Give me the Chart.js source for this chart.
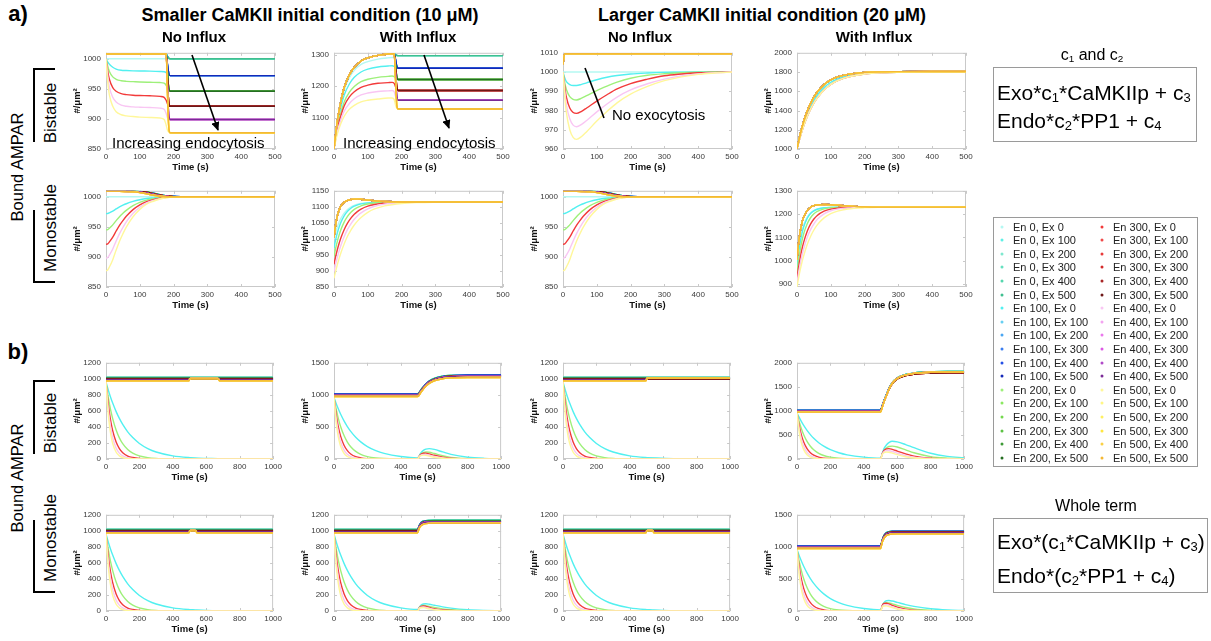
<!DOCTYPE html>
<html>
<head>
<meta charset="utf-8">
<script src="https://cdn.jsdelivr.net/npm/chart.js@4.4.1/dist/chart.umd.min.js"></script>
<style>
  html, body { margin: 0; padding: 0; background: #fff; }
  #fig { position: relative; width: 1211px; height: 641px; overflow: hidden;
         font-family: "Liberation Sans", Arial, Helvetica, sans-serif; color: #000; }
  #plots canvas { position: absolute; }
  .t { position: absolute; white-space: nowrap; transform: translate(-50%, -50%); line-height: 1; }
  .l { position: absolute; white-space: nowrap; transform: translateY(-50%); line-height: 1; }
  .r { position: absolute; white-space: nowrap; transform: translate(-50%, -50%) rotate(-90deg); line-height: 1; }
  .b { font-weight: bold; }
  .box { position: absolute; border: 1.5px solid #9a9a9a; box-sizing: border-box; background: #fff; }
  .brk { position: absolute; box-sizing: border-box; border-color: #000; border-style: solid; border-width: 0; }
  sub { font-size: 62%; vertical-align: -0.2em; line-height: 0; }
  .leg { position: absolute; font-size: 11px; color: #222; white-space: nowrap; transform: translateY(-50%); line-height: 1; }
  .dot { position: absolute; width: 3px; height: 3px; border-radius: 50%; transform: translate(-50%, -50%); }
</style>
</head>
<body>
<div id="fig">
  <div id="plots"></div>

  <!-- panel letters and column headings -->
  <div class="t b" style="left:18px;top:14px;font-size:22px;">a)</div>
  <div class="t b" style="left:18px;top:352px;font-size:22px;">b)</div>
  <div class="t b" style="left:310px;top:15px;font-size:18px;">Smaller CaMKII initial condition (10 μM)</div>
  <div class="t b" style="left:762px;top:15px;font-size:18px;">Larger CaMKII initial condition (20 μM)</div>
  <div class="t b" style="left:194px;top:36px;font-size:15px;">No Influx</div>
  <div class="t b" style="left:418px;top:36px;font-size:15px;">With Influx</div>
  <div class="t b" style="left:640px;top:36px;font-size:15px;">No Influx</div>
  <div class="t b" style="left:874px;top:36px;font-size:15px;">With Influx</div>

  <!-- row labels -->
  <div class="r" style="left:17px;top:167px;font-size:16.5px;">Bound AMPAR</div>
  <div class="r" style="left:17px;top:478px;font-size:16.5px;">Bound AMPAR</div>
  <div class="r" style="left:50px;top:113px;font-size:17px;">Bistable</div>
  <div class="r" style="left:50px;top:228px;font-size:17px;">Monostable</div>
  <div class="r" style="left:50px;top:423px;font-size:17px;">Bistable</div>
  <div class="r" style="left:50px;top:538px;font-size:17px;">Monostable</div>
  <div class="brk" style="left:33px;top:68px;width:22px;height:74px;border-top-width:2px;border-left-width:2px;"></div>
  <div class="brk" style="left:33px;top:210px;width:22px;height:73px;border-bottom-width:2px;border-left-width:2px;"></div>
  <div class="brk" style="left:33px;top:380px;width:22px;height:74px;border-top-width:2px;border-left-width:2px;"></div>
  <div class="brk" style="left:33px;top:520px;width:22px;height:73px;border-bottom-width:2px;border-left-width:2px;"></div>

  <!-- in-plot annotations -->
  <div class="l" style="left:112px;top:142px;font-size:15px;">Increasing endocytosis</div>
  <div class="l" style="left:343px;top:142px;font-size:15px;">Increasing endocytosis</div>
  <div class="l" style="left:612px;top:114px;font-size:15px;">No exocytosis</div>
  <svg width="1211" height="641" style="position:absolute;left:0;top:0;">
    <defs>
      <marker id="head" markerWidth="9" markerHeight="8" refX="8" refY="4" orient="auto" markerUnits="userSpaceOnUse">
        <path d="M0,0 L9,4 L0,8 z" fill="#000"/>
      </marker>
    </defs>
    <line x1="192" y1="55" x2="218" y2="130" stroke="#000" stroke-width="1.6" marker-end="url(#head)"/>
    <line x1="424" y1="55" x2="449" y2="128" stroke="#000" stroke-width="1.6" marker-end="url(#head)"/>
    <line x1="585" y1="68" x2="604" y2="118" stroke="#000" stroke-width="1.6"/>
  </svg>

  <!-- equation boxes -->
  <div class="t" style="left:1092px;top:55px;font-size:16px;">c<sub>1</sub> and c<sub>2</sub></div>
  <div class="box" style="left:993px;top:67px;width:204px;height:75px;"></div>
  <div class="l" style="left:997px;top:92px;font-size:21px;">Exo*c<sub>1</sub>*CaMKIIp + c<sub>3</sub></div>
  <div class="l" style="left:997px;top:120px;font-size:21px;">Endo*c<sub>2</sub>*PP1 + c<sub>4</sub></div>

  <div class="t" style="left:1096px;top:506px;font-size:16px;">Whole term</div>
  <div class="box" style="left:993px;top:518px;width:215px;height:75px;"></div>
  <div class="l" style="left:997px;top:541px;font-size:21px;">Exo*(c<sub>1</sub>*CaMKIIp + c<sub>3</sub>)</div>
  <div class="l" style="left:997px;top:575px;font-size:21px;">Endo*(c<sub>2</sub>*PP1 + c<sub>4</sub>)</div>

  <div class="box" id="legend" style="left:993px;top:217px;width:205px;height:250px;"></div>
</div>

<script>
// ---- series: endocytosis x exocytosis rate combinations ----
const enLevels = [0, 100, 200, 300, 400, 500];
const exLevels = [0, 100, 200, 300, 400, 500];
const seriesColors = [
  '#b4f8f2', '#5ef0e6', '#7fe8cf', '#66e0c0', '#55d6ad', '#40bf90',   // En 0
  '#52f0f0', '#67cff2', '#4aa6f2', '#3b7df0', '#2450e6', '#1428b8',   // En 100
  '#9ef07a', '#8be860', '#74d84e', '#5cc244', '#3d9a36', '#256e22',   // En 200
  '#f23a3a', '#f04a4a', '#e83a3a', '#d42a2a', '#a82626', '#6e1818',   // En 300
  '#f9c6f3', '#f3a4f0', '#ea78ec', '#dc58e4', '#b04ac8', '#7a2a96',   // En 400
  '#fff79a', '#fff685', '#fff060', '#ffe640', '#fad045', '#f4b834'    // En 500
];

// ---- axis ticks ----
const xTicksShort = [0, 100, 200, 300, 400, 500];
const xTicksLong = [0, 200, 400, 600, 800, 1000];
const yTicks850 = [850, 900, 950, 1000];
const yTicks1300 = [1000, 1100, 1200, 1300];
const yTicks960 = [960, 970, 980, 990, 1000, 1010];
const yTicks2000 = [1000, 1200, 1400, 1600, 1800, 2000];
const yTicks1150 = [850, 900, 950, 1000, 1050, 1100, 1150];
const yTicks900 = [900, 1000, 1100, 1200, 1300];
const yTicks0to1200 = [0, 200, 400, 600, 800, 1000, 1200];
const yTicks0to1500 = [0, 500, 1000, 1500];
const yTicks0to2000 = [0, 500, 1000, 1500, 2000];

// ---- (a) bistable, 10 uM, no influx ----
const a1Time = [0, 5, 10, 20, 30, 45, 60, 80, 100, 130, 160, 172, 178, 182, 186, 190, 200, 300, 400, 500];
const a1Curves = [
  [1000,1000,1000,1000,1000,1000,1000,1000,1000,1000,1000,1000,1000,1000,1000,1000,1000,1000,1000,1000],
  [1000,995,991,986,983,981,980.5,980,979.7,979.5,979,978.5,977,975,973,972,972,972,972,972],
  [1000,988,979,970,966,963.5,962.5,962,961.5,961,960.5,959.5,956,951,948,946.5,946,946,946,946],
  [1000,980,966,952,946,942,940.5,939.5,939,938.5,937.5,936,931,925,922,921,921,921,921,921],
  [1000,972,953,936,928,923,921,920,919.5,919,918,916,909,902,900,899,899,899,899,899],
  [1000,962,940,921,912,907,905,904,903,902.5,901.5,899,890,881,878,877,877,877,877,877],
  [1008,1008,1008,1008,1008,1008,1008,1008,1008,1008,1008,1008,1008,1004,1001,1000,1000,1000,1000,1000],
  [1008,1008,1008,1008,1008,1008,1008,1008,1008,1008,1008,1008,1008,990,975,972,972,972,972,972],
  [1008,1008,1008,1008,1008,1008,1008,1008,1008,1008,1008,1008,1008,975,950,946,946,946,946,946],
  [1008,1008,1008,1008,1008,1008,1008,1008,1008,1008,1008,1008,1008,962,926,921,921,921,921,921],
  [1008,1008,1008,1008,1008,1008,1008,1008,1008,1008,1008,1008,1008,950,904,899,899,899,899,899],
  [1008,1008,1008,1008,1008,1008,1008,1008,1008,1008,1008,1008,1008,940,884,877,877,877,877,877]
];

// ---- (a) bistable, 10 uM, with influx ----
const a2Time = [0, 5, 10, 20, 30, 45, 60, 80, 100, 130, 160, 172, 178, 182, 186, 190, 200, 300, 400, 500];
const a2Curves = [
  [1000,1046,1086,1144,1187,1226,1250,1269,1278,1286,1290,1291,1291,1293,1296,1297,1297,1297,1297,1297],
  [1000,1042,1079,1131,1171,1206,1228,1245,1254,1261,1264,1265,1263,1260,1258,1257,1257,1257,1257,1257],
  [1000,1037,1069,1115,1149,1180,1199,1214,1222,1228,1231,1232,1230,1226,1222,1221,1221,1221,1221,1221],
  [1000,1034,1063,1105,1137,1165,1182,1196,1203,1209,1211,1212,1209,1198,1189,1186,1186,1186,1186,1186],
  [1000,1029,1055,1092,1120,1144,1160,1172,1178,1183,1185,1186,1182,1168,1158,1155,1155,1155,1155,1155],
  [1000,1026,1048,1080,1104,1126,1139,1150,1155,1159,1162,1162,1158,1140,1130,1127,1127,1127,1127,1127],
  [1000,1048,1090,1150,1195,1235,1260,1280,1290,1298,1302,1303,1303,1300,1298,1297,1297,1297,1297,1297],
  [1000,1048,1090,1150,1195,1235,1260,1280,1290,1298,1302,1303,1303,1285,1262,1257,1257,1257,1257,1257],
  [1000,1048,1090,1150,1195,1235,1260,1280,1290,1298,1302,1303,1303,1265,1228,1221,1221,1221,1221,1221],
  [1000,1048,1090,1150,1195,1235,1260,1280,1290,1298,1302,1303,1303,1250,1195,1186,1186,1186,1186,1186],
  [1000,1048,1090,1150,1195,1235,1260,1280,1290,1298,1302,1303,1303,1235,1165,1155,1155,1155,1155,1155],
  [1000,1048,1090,1150,1195,1235,1260,1280,1290,1298,1302,1303,1303,1220,1137,1127,1127,1127,1127,1127]
];

// ---- (a) bistable, 20 uM, no influx ----
const a3Time = [0, 5, 10, 20, 30, 40, 55, 70, 100, 130, 160, 200, 250, 300, 350, 400, 450, 500];
const a3Curves = [
  [1000,1000,1000,1000,1000,1000,1000,1000,1000,1000,1000,1000,1000,1000,1000,1000,1000,1000],
  [1000,997,995,993.5,993,993,993.6,994.4,996,997.3,998.2,999,999.5,999.8,999.9,1000,1000,1000],
  [1000,994.6,990.9,987.2,985.8,985.5,986.4,987.7,990.4,992.7,994.8,996.8,998.3,999.1,999.6,999.9,1000,1000],
  [1000,992.5,986.9,981.3,979,978.5,979.6,981.3,984.9,988.2,991.2,994,996.3,998.1,999,999.6,999.8,1000],
  [1000,990.3,983,975.7,972.4,971.6,972.8,974.8,979.3,983.4,987,990.7,993.9,996.3,998,999,999.6,1000],
  [1000,988,979,970,966,965,966.5,969,974.5,979.5,984,988.5,992.5,995.5,997.5,998.8,999.5,1000],
  [1004,1009.5,1009.5,1009.5,1009.5,1009.5,1009.5,1009.5,1009.5,1009.5,1009.5,1009.5,1009.5,1009.5,1009.5,1009.5,1009.5,1009.5]
];

// ---- (a) bistable, 20 uM, with influx ----
const a4Time = [0, 10, 20, 30, 40, 50, 60, 80, 100, 120, 150, 200, 250, 300, 400, 500];
const a4Curves = [
  [1000,1145,1265,1362,1442,1507,1561,1640,1694,1729,1762,1787,1797,1800,1802,1802],
  [1000,1133,1244,1336,1413,1478,1531,1613,1670,1710,1748,1779,1792,1797,1800,1800],
  [1000,1161,1289,1392,1474,1540,1593,1669,1718,1749,1776,1796,1802,1804,1805,1805]
];

// ---- (a) monostable, no influx (10 uM and 20 uM) ----
const a5Time = [0, 5, 10, 20, 30, 40, 50, 60, 80, 100, 120, 140, 160, 180, 200, 250, 300, 400, 500];
const a5Curves = [
  [1000,1000,1000,1000,1000,1000,1000,1000,1000,1000,1000,1000,1000,1000,1000,1000,1000,1000,1000],
  [972,972.3,973.4,976.2,979.8,983.2,986,988.5,992.4,995.2,997.2,998.3,999.2,999.7,999.9,1000,1000,1000,1000],
  [945,945.6,947.8,953.3,960.4,967,972.5,977.5,985.2,990.7,994.5,996.7,998.4,999.3,999.7,1000,1000,1000,1000],
  [921,921.8,925,932.9,943.1,952.6,960.5,967.6,978.7,986.6,992.1,995.3,997.6,999.1,999.6,1000,1000,1000,1000],
  [898,899,903.1,913.3,926.6,938.8,949,958.2,972.5,982.7,989.8,993.9,996.9,998.8,999.5,1000,1000,1000,1000],
  [877,878.2,883.2,895.5,911.4,926.2,938.5,949.6,966.8,979.1,987.7,992.6,996.3,998.5,999.4,1000,1000,1000,1000],
  [1009,1009,1009,1009,1009,1009,1009,1009,1009,1008.8,1008,1006,1003.5,1001.5,1000.5,1000,1000,1000,1000],
  [1009,1009,1009,1009,1009,1009,1009,1009,1009,1008.7,1007.8,1005.7,1003.2,1001.3,1000.4,1000,1000,1000,1000],
  [1009,1009,1009,1009,1009,1009,1009,1009,1008.9,1008.6,1007.5,1005.3,1002.9,1001.1,1000.3,1000,1000,1000,1000],
  [1009,1009,1009,1009,1009,1009,1009,1009,1008.9,1008.4,1007.2,1004.9,1002.5,1000.9,1000.2,1000,1000,1000,1000],
  [1009,1009,1009,1009,1009,1009,1009,1008.9,1008.6,1007.8,1006.2,1003.8,1001.7,1000.5,1000.1,1000,1000,1000,1000],
  [1009,1009,1009,1009,1009,1009,1008.9,1008.7,1008.2,1007,1005,1002.6,1000.9,1000.2,1000,1000,1000,1000,1000]
];

// ---- (a) monostable, 10 uM, with influx ----
const a6Time = [0, 5, 10, 15, 20, 30, 40, 50, 60, 70, 80, 100, 120, 150, 200, 250, 300, 400, 500];
const a6Curves = [
  [1000,1020.8,1038,1051.9,1063.4,1080.4,1091.8,1099.5,1104.6,1108,1110.3,1112.9,1114.1,1114.7,1115,1115,1115,1115,1115],
  [972,997.9,1019.2,1036.5,1050.8,1072,1086.1,1095.7,1102,1106.3,1109.2,1112.4,1113.8,1114.6,1115,1115,1115,1115,1115],
  [945,971.2,993.1,1011.8,1027.8,1052.4,1070.1,1082.9,1092,1098.5,1103.2,1108.9,1111.9,1113.9,1114.8,1115,1115,1115,1115],
  [921,945.4,967,985.6,1002.1,1028.7,1049.2,1064.8,1076.6,1085.7,1092.7,1102,1107.4,1111.6,1114.1,1114.8,1115,1115,1115],
  [898,921.9,942.9,962,978.7,1006.9,1029.5,1047.1,1061.2,1072.5,1081.1,1093.8,1101.7,1108.4,1112.9,1114.3,1115,1115,1115],
  [877,899.6,920.1,938.6,955.5,984.3,1008.1,1027.4,1043.4,1056.2,1066.9,1082.9,1093.4,1103.1,1110.6,1113.4,1114.4,1115,1115],
  [1005,1045,1072,1090,1102,1114,1120,1123,1124,1124,1123.5,1121,1119,1116.5,1115,1115,1115,1115,1115]
];

// ---- (a) monostable, 20 uM, with influx ----
const a8Time = [0, 5, 10, 15, 20, 30, 40, 50, 60, 80, 100, 120, 150, 200, 250, 300, 400, 500];
const a8Curves = [
  [1000,1055.9,1098,1130,1154.3,1186.5,1205.2,1215.7,1221.8,1227.3,1229.1,1229.7,1230,1230,1230,1230,1230,1230],
  [973,1035.4,1082.5,1118.2,1145.4,1181.4,1202.2,1214,1220.8,1227,1229,1229.7,1230,1230,1230,1230,1230,1230],
  [948,1005.2,1050.9,1087.3,1116.4,1157.8,1184.3,1201,1211.6,1222.6,1227,1228.8,1229.7,1230,1230,1230,1230,1230],
  [925,974.7,1016.5,1051.6,1080.5,1125.4,1156.8,1178.8,1194.3,1212.5,1221.4,1225.8,1228.6,1229.8,1230,1230,1230,1230],
  [905,950.8,989.8,1023.6,1052.5,1099,1133.1,1158.5,1177.3,1201.2,1214.3,1221.4,1226.6,1229.3,1230,1230,1230,1230],
  [888,928.4,963.6,995,1022.4,1068.6,1104.1,1131.8,1153.7,1183.8,1201.9,1213,1222,1227.7,1229.4,1230,1230,1230],
  [1005,1080,1130,1165,1188,1215,1229,1236,1239,1241,1240,1238,1235,1231,1230,1230,1230,1230]
];

// ---- (b) bistable, 10 uM, no influx ----
// rows: Ex 0 for En 100..500, then Ex > 0 for En 0..500
const b1Time = [0, 10, 20, 30, 40, 60, 80, 100, 130, 160, 200, 250, 300, 400, 495, 505, 600, 670, 680, 800, 1000];
const b1Curves = [
  [960,886,818,755,697,594,506,431,339,267,194,130,87,39,18,17,8,5,4,2,0],
  [960,817,695,591,504,365,264,191,118,73,38,17,8,2,0,0,0,0,0,0,0],
  [960,748,583,453,353,214,130,79,37,18,6,2,1,0,0,0,0,0,0,0,0],
  [960,695,504,365,264,138,73,38,14,5,2,0,0,0,0,0,0,0,0,0,0],
  [960,643,431,289,194,87,39,18,5,2,0,0,0,0,0,0,0,0,0,0,0],
  [1016,1016,1016,1016,1016,1016,1016,1016,1016,1016,1016,1016,1016,1016,1016,1016,1016,1016,1016,1016,1016],
  [1010,1010,1010,1010,1010,1010,1010,1010,1010,1010,1010,1010,1010,1010,1010,1010,1010,1010,1010,1010,1010],
  [1004,1004,1004,1004,1004,1004,1004,1004,1004,1004,1004,1004,1004,1004,1004,1004,1004,1004,1004,1004,1004],
  [998,998,998,998,998,998,998,998,998,998,998,998,998,998,998,998,998,998,998,998,998],
  [990,990,990,990,990,990,990,990,990,990,990,990,990,990,990,1006,1006,1006,990,990,990],
  [975,975,975,975,975,975,975,975,975,975,975,975,975,975,975,1004,1004,1004,975,975,975]
];

// ---- (b) bistable, 20 uM, no influx ----
const b3Time = [0, 10, 20, 30, 40, 60, 80, 100, 130, 160, 200, 250, 300, 400, 495, 505, 700, 1000];
const b3Curves = [
  [960,886,818,755,697,594,506,431,339,267,194,130,87,39,18,17,4,0],
  [960,817,695,591,504,365,264,191,118,73,38,17,8,2,0,0,0,0],
  [960,748,583,453,353,214,130,79,37,18,6,2,1,0,0,0,0,0],
  [960,695,504,365,264,138,73,38,14,5,2,0,0,0,0,0,0,0],
  [960,643,431,289,194,87,39,18,5,2,0,0,0,0,0,0,0,0],
  [1016,1016,1016,1016,1016,1016,1016,1016,1016,1016,1016,1016,1016,1016,1016,1016,1016,1016],
  [1010,1010,1010,1010,1010,1010,1010,1010,1010,1010,1010,1010,1010,1010,1010,1010,1010,1010],
  [1004,1004,1004,1004,1004,1004,1004,1004,1004,1004,1004,1004,1004,1004,1004,1004,1004,1004],
  [998,998,998,998,998,998,998,998,998,998,998,998,998,998,998,998,998,998],
  [990,990,990,990,990,990,990,990,990,990,990,990,990,990,990,1010,1010,1010],
  [975,975,975,975,975,975,975,975,975,975,975,975,975,975,975,1010,1010,1010]
];

// ---- (b) monostable, no influx (10 uM and 20 uM) ----
const b5Time = [0, 10, 20, 30, 40, 60, 80, 100, 130, 160, 200, 250, 300, 400, 495, 505, 535, 545, 600, 800, 1000];
const b5Curves = [
  [960,886,818,755,697,594,506,431,339,267,194,130,87,39,18,17,13,12,8,2,0],
  [960,817,695,591,504,365,264,191,118,73,38,17,8,2,0,0,0,0,0,0,0],
  [960,748,583,453,353,214,130,79,37,18,6,2,1,0,0,0,0,0,0,0,0],
  [960,695,504,365,264,138,73,38,14,5,2,0,0,0,0,0,0,0,0,0,0],
  [960,643,431,289,194,87,39,18,5,2,0,0,0,0,0,0,0,0,0,0,0],
  [1016,1016,1016,1016,1016,1016,1016,1016,1016,1016,1016,1016,1016,1016,1016,1016,1016,1016,1016,1016,1016],
  [1010,1010,1010,1010,1010,1010,1010,1010,1010,1010,1010,1010,1010,1010,1010,1010,1010,1010,1010,1010,1010],
  [1004,1004,1004,1004,1004,1004,1004,1004,1004,1004,1004,1004,1004,1004,1004,1004,1004,1004,1004,1004,1004],
  [998,998,998,998,998,998,998,998,998,998,998,998,998,998,998,998,998,998,998,998,998],
  [990,990,990,990,990,990,990,990,990,990,990,990,990,990,990,1006,1006,990,990,990,990],
  [975,975,975,975,975,975,975,975,975,975,975,975,975,975,975,1004,1004,975,975,975,975]
];

// ---- (b) runs with influx at t = 500 s share one time grid ----
const influxTime = [0, 10, 20, 30, 40, 60, 80, 100, 130, 160, 200, 250, 300, 400, 500, 510, 520, 535, 550, 570, 600, 650, 700, 800, 900, 1000];
const b2Curves = [
  [960,886,818,755,697,594,506,431,339,267,194,130,87,39,18, 50,95,135,155,162,150,110,72,28,10,4],
  [960,817,695,591,504,365,264,191,118,73,38,17,8,2,0, 40,75,100,110,105,85,50,26,6,1,0],
  [960,748,583,453,353,214,130,79,37,18,6,2,1,0,0, 45,75,90,92,80,58,30,14,3,0,0],
  [960,695,504,365,264,138,73,38,14,5,2,0,0,0,0, 40,62,72,70,58,40,18,7,1,0,0],
  [960,643,431,289,194,87,39,18,5,2,0,0,0,0,0, 35,52,60,56,45,28,11,4,0,0,0],
  [1016,1016,1016,1016,1016,1016,1016,1016,1016,1016,1016,1016,1016,1016,1016, 1036,1076,1126,1171,1216,1256,1291,1304,1311,1311,1311],
  [1010,1010,1010,1010,1010,1010,1010,1010,1010,1010,1010,1010,1010,1010,1010, 1030,1070,1120,1165,1210,1250,1285,1298,1305,1305,1305],
  [1004,1004,1004,1004,1004,1004,1004,1004,1004,1004,1004,1004,1004,1004,1004, 1024,1064,1114,1159,1204,1244,1279,1292,1299,1299,1299],
  [998,998,998,998,998,998,998,998,998,998,998,998,998,998,998, 1018,1058,1108,1153,1198,1238,1273,1286,1293,1293,1293],
  [990,990,990,990,990,990,990,990,990,990,990,990,990,990,990, 1010,1055,1105,1150,1195,1235,1270,1283,1290,1290,1290],
  [975,975,975,975,975,975,975,975,975,975,975,975,975,975,975, 995,1040,1090,1135,1180,1220,1252,1265,1270,1270,1270]
];
const b4Curves = [
  [960,886,818,755,697,594,506,431,339,267,194,130,87,39,18, 120,210,290,340,368,355,300,235,120,55,25],
  [960,817,695,591,504,365,264,191,118,73,38,17,8,2,0, 100,170,230,260,268,250,190,130,50,18,6],
  [960,748,583,453,353,214,130,79,37,18,6,2,1,0,0, 110,175,210,215,200,165,105,60,15,3,0],
  [960,695,504,365,264,138,73,38,14,5,2,0,0,0,0, 100,150,175,172,155,120,70,35,7,1,0],
  [960,643,431,289,194,87,39,18,5,2,0,0,0,0,0, 90,130,145,140,122,90,48,22,3,0,0],
  [1016,1016,1016,1016,1016,1016,1016,1016,1016,1016,1016,1016,1016,1016,1016, 1108,1208,1338,1468,1588,1688,1758,1788,1813,1818,1818],
  [1010,1010,1010,1010,1010,1010,1010,1010,1010,1010,1010,1010,1010,1010,1010, 1100,1200,1330,1460,1580,1680,1750,1780,1805,1810,1810],
  [1004,1004,1004,1004,1004,1004,1004,1004,1004,1004,1004,1004,1004,1004,1004, 1092,1192,1322,1452,1572,1672,1742,1772,1797,1802,1802],
  [998,998,998,998,998,998,998,998,998,998,998,998,998,998,998, 1084,1184,1314,1444,1564,1664,1734,1764,1789,1794,1794],
  [990,990,990,990,990,990,990,990,990,990,990,990,990,990,990, 1085,1190,1320,1455,1578,1678,1749,1779,1804,1809,1809],
  [975,975,975,975,975,975,975,975,975,975,975,975,975,975,975, 1070,1180,1315,1450,1575,1676,1748,1779,1804,1809,1809]
];
const b6Curves = [
  [960,886,818,755,697,594,506,431,339,267,194,130,87,39,18, 45,72,88,90,85,72,52,36,16,7,3],
  [960,817,695,591,504,365,264,191,118,73,38,17,8,2,0, 38,58,68,66,58,45,27,15,4,1,0],
  [960,748,583,453,353,214,130,79,37,18,6,2,1,0,0, 40,58,63,58,46,30,14,6,1,0,0],
  [960,695,504,365,264,138,73,38,14,5,2,0,0,0,0, 35,48,50,44,34,20,8,3,0,0,0],
  [960,643,431,289,194,87,39,18,5,2,0,0,0,0,0, 30,40,42,36,26,15,5,2,0,0,0],
  [1016,1016,1016,1016,1016,1016,1016,1016,1016,1016,1016,1016,1016,1016,1016, 1066,1101,1121,1128,1131,1132,1132,1132,1132,1132,1132],
  [1010,1010,1010,1010,1010,1010,1010,1010,1010,1010,1010,1010,1010,1010,1010, 1060,1095,1115,1122,1125,1126,1126,1126,1126,1126,1126],
  [1004,1004,1004,1004,1004,1004,1004,1004,1004,1004,1004,1004,1004,1004,1004, 1054,1089,1109,1116,1119,1120,1120,1120,1120,1120,1120],
  [998,998,998,998,998,998,998,998,998,998,998,998,998,998,998, 1048,1083,1103,1110,1113,1114,1114,1114,1114,1114,1114],
  [990,990,990,990,990,990,990,990,990,990,990,990,990,990,990, 1045,1080,1100,1108,1110,1110,1110,1110,1110,1110,1110],
  [975,975,975,975,975,975,975,975,975,975,975,975,975,975,975, 1030,1062,1082,1090,1093,1094,1094,1094,1094,1094,1094]
];
const b8Curves = [
  [960,886,818,755,697,594,506,431,339,267,194,130,87,39,18, 80,130,160,163,155,135,100,72,35,16,7],
  [960,817,695,591,504,365,264,191,118,73,38,17,8,2,0, 75,115,130,127,112,88,55,32,10,3,1],
  [960,748,583,453,353,214,130,79,37,18,6,2,1,0,0, 85,118,122,110,88,60,30,14,3,0,0],
  [960,695,504,365,264,138,73,38,14,5,2,0,0,0,0, 70,95,98,86,66,42,18,7,1,0,0],
  [960,643,431,289,194,87,39,18,5,2,0,0,0,0,0, 60,78,80,70,52,32,12,4,0,0,0],
  [1016,1016,1016,1016,1016,1016,1016,1016,1016,1016,1016,1016,1016,1016,1016, 1106,1176,1221,1238,1246,1248,1248,1248,1248,1248,1248],
  [1010,1010,1010,1010,1010,1010,1010,1010,1010,1010,1010,1010,1010,1010,1010, 1100,1170,1215,1232,1240,1242,1242,1242,1242,1242,1242],
  [1004,1004,1004,1004,1004,1004,1004,1004,1004,1004,1004,1004,1004,1004,1004, 1094,1164,1209,1226,1234,1236,1236,1236,1236,1236,1236],
  [998,998,998,998,998,998,998,998,998,998,998,998,998,998,998, 1088,1158,1203,1220,1228,1230,1230,1230,1230,1230,1230],
  [990,990,990,990,990,990,990,990,990,990,990,990,990,990,990, 1085,1150,1195,1212,1220,1222,1222,1222,1222,1222,1222],
  [975,975,975,975,975,975,975,975,975,975,975,975,975,975,975, 1070,1130,1175,1192,1200,1202,1202,1202,1202,1202,1202]
];

// which curve each (En index, Ex index) series follows in a panel
const curvePerEnAndEx = (en, ex) => ex === 0 ? en : 6 + en;
const curvePerEn = (en, ex) => ex === 0 ? en : 6;
const curveRise = (en, ex) => ex === 0 ? (en <= 1 ? 0 : 1) : 2;
const curveWhole = (en, ex) => ex === 0 ? (en === 0 ? 5 : en - 1) : 5 + en;

// ---- page layout of the 4 x 4 grid ----
const COL_X = [106, 334, 563, 797];
const ROW_Y = [51, 189, 361, 513];
const PLOT_W = 169, PLOT_H = 98;
const Y_AXIS_W = 34, X_AXIS_H = 24, PAD_TOP = 8, PAD_RIGHT = 10;

const panels = [
  { col: 0, row: 0, t: a1Time, c: a1Curves, pick: curvePerEnAndEx, xt: xTicksShort, ymin: 850, ymax: 1010, yt: yTicks850 },
  { col: 1, row: 0, t: a2Time, c: a2Curves, pick: curvePerEnAndEx, xt: xTicksShort, ymin: 1000, ymax: 1306, yt: yTicks1300 },
  { col: 2, row: 0, t: a3Time, c: a3Curves, pick: curvePerEn, xt: xTicksShort, ymin: 960, ymax: 1010, yt: yTicks960 },
  { col: 3, row: 0, t: a4Time, c: a4Curves, pick: curveRise, xt: xTicksShort, ymin: 1000, ymax: 2000, yt: yTicks2000 },
  { col: 0, row: 1, t: a5Time, c: a5Curves, pick: curvePerEnAndEx, xt: xTicksShort, ymin: 850, ymax: 1010, yt: yTicks850 },
  { col: 1, row: 1, t: a6Time, c: a6Curves, pick: curvePerEn, xt: xTicksShort, ymin: 850, ymax: 1150, yt: yTicks1150 },
  { col: 2, row: 1, t: a5Time, c: a5Curves, pick: curvePerEnAndEx, xt: xTicksShort, ymin: 850, ymax: 1010, yt: yTicks850 },
  { col: 3, row: 1, t: a8Time, c: a8Curves, pick: curvePerEn, xt: xTicksShort, ymin: 887, ymax: 1300, yt: yTicks900 },
  { col: 0, row: 2, t: b1Time, c: b1Curves, pick: curveWhole, xt: xTicksLong, ymin: 0, ymax: 1200, yt: yTicks0to1200 },
  { col: 1, row: 2, t: influxTime, c: b2Curves, pick: curveWhole, xt: xTicksLong, ymin: 0, ymax: 1500, yt: yTicks0to1500 },
  { col: 2, row: 2, t: b3Time, c: b3Curves, pick: curveWhole, xt: xTicksLong, ymin: 0, ymax: 1200, yt: yTicks0to1200 },
  { col: 3, row: 2, t: influxTime, c: b4Curves, pick: curveWhole, xt: xTicksLong, ymin: 0, ymax: 2000, yt: yTicks0to2000 },
  { col: 0, row: 3, t: b5Time, c: b5Curves, pick: curveWhole, xt: xTicksLong, ymin: 0, ymax: 1200, yt: yTicks0to1200 },
  { col: 1, row: 3, t: influxTime, c: b6Curves, pick: curveWhole, xt: xTicksLong, ymin: 0, ymax: 1200, yt: yTicks0to1200 },
  { col: 2, row: 3, t: b5Time, c: b5Curves, pick: curveWhole, xt: xTicksLong, ymin: 0, ymax: 1200, yt: yTicks0to1200 },
  { col: 3, row: 3, t: influxTime, c: b8Curves, pick: curveWhole, xt: xTicksLong, ymin: 0, ymax: 1500, yt: yTicks0to1500 }
];

const seriesNames = [];
enLevels.forEach(en => exLevels.forEach(ex => seriesNames.push(`En ${en}, Ex ${ex}`)));

// light axes box with short inward tick marks on all four sides
const axesFrame = {
  id: 'axesFrame',
  beforeDatasetsDraw(chart) {
    const { ctx, chartArea: a, scales: { x, y } } = chart;
    ctx.save();
    ctx.strokeStyle = '#c9c9c9';
    ctx.lineWidth = 1;
    ctx.strokeRect(a.left + 0.5, a.top + 0.5, a.width - 1, a.height - 1);
    ctx.beginPath();
    x.ticks.forEach(tk => {
      const px = Math.round(x.getPixelForValue(tk.value)) + 0.5;
      ctx.moveTo(px, a.bottom); ctx.lineTo(px, a.bottom - 3);
      ctx.moveTo(px, a.top); ctx.lineTo(px, a.top + 3);
    });
    y.ticks.forEach(tk => {
      const py = Math.round(y.getPixelForValue(tk.value)) + 0.5;
      ctx.moveTo(a.left, py); ctx.lineTo(a.left + 3, py);
      ctx.moveTo(a.right, py); ctx.lineTo(a.right - 3, py);
    });
    ctx.stroke();
    ctx.restore();
  }
};

Chart.defaults.font.family = '"Liberation Sans", Arial, Helvetica, sans-serif';

const host = document.getElementById('plots');
panels.forEach(p => {
  const cv = document.createElement('canvas');
  cv.width = Y_AXIS_W + PLOT_W + PAD_RIGHT;
  cv.height = PAD_TOP + PLOT_H + X_AXIS_H;
  cv.style.left = (COL_X[p.col] - Y_AXIS_W) + 'px';
  cv.style.top = (ROW_Y[p.row] - PAD_TOP) + 'px';
  host.appendChild(cv);

  const datasets = seriesNames.map((name, s) => {
    const vals = p.c[p.pick(Math.floor(s / 6), s % 6)];
    return {
      label: name,
      data: p.t.map((tx, k) => ({ x: tx, y: vals[k] })),
      borderColor: seriesColors[s],
      backgroundColor: seriesColors[s],
      borderWidth: 1.4,
      pointRadius: 0,
      cubicInterpolationMode: 'monotone',
      fill: false,
      order: seriesNames.length - 1 - s
    };
  });

  const tickFont = { size: 8 };
  new Chart(cv, {
    type: 'line',
    data: { datasets },
    plugins: [axesFrame],
    options: {
      responsive: false, animation: false, devicePixelRatio: 1, events: [],
      layout: { padding: { top: PAD_TOP, right: PAD_RIGHT, bottom: 0, left: 0 } },
      plugins: { legend: { display: false }, tooltip: { enabled: false } },
      scales: {
        x: {
          type: 'linear', min: p.xt[0], max: p.xt[p.xt.length - 1],
          afterBuildTicks: sc => { sc.ticks = p.xt.map(v => ({ value: v })); },
          afterFit: sc => { sc.height = X_AXIS_H; },
          grid: { display: false, drawTicks: false }, border: { display: false },
          ticks: { padding: 3, font: tickFont, color: '#3a3a3a', maxRotation: 0, autoSkip: false, callback: v => String(v) },
          title: { display: true, text: 'Time (s)', font: { size: 9.5, weight: 'bold' }, color: '#111', padding: 0 }
        },
        y: {
          type: 'linear', min: p.ymin, max: p.ymax,
          afterBuildTicks: sc => { sc.ticks = p.yt.map(v => ({ value: v })); },
          afterFit: sc => { sc.width = Y_AXIS_W; },
          grid: { display: false, drawTicks: false }, border: { display: false },
          ticks: { padding: 5, font: tickFont, color: '#3a3a3a', autoSkip: false, callback: v => String(v) },
          title: { display: true, text: '#/μm²', font: { size: 9.5, weight: 'bold' }, color: '#111', padding: 0 }
        }
      }
    }
  });
});

// two-column legend of all 36 series
const fig = document.getElementById('fig');
seriesNames.forEach((name, s) => {
  const colIdx = Math.floor(s / 18), rowIdx = s % 18;
  const cy = 226.5 + rowIdx * 13.6;
  const dot = document.createElement('div');
  dot.className = 'dot';
  dot.style.left = (1002 + colIdx * 100) + 'px';
  dot.style.top = cy + 'px';
  dot.style.background = seriesColors[s];
  fig.appendChild(dot);
  const txt = document.createElement('div');
  txt.className = 'leg';
  txt.style.left = (1013 + colIdx * 100) + 'px';
  txt.style.top = cy + 'px';
  txt.textContent = name;
  fig.appendChild(txt);
});
</script>
</body>
</html>
